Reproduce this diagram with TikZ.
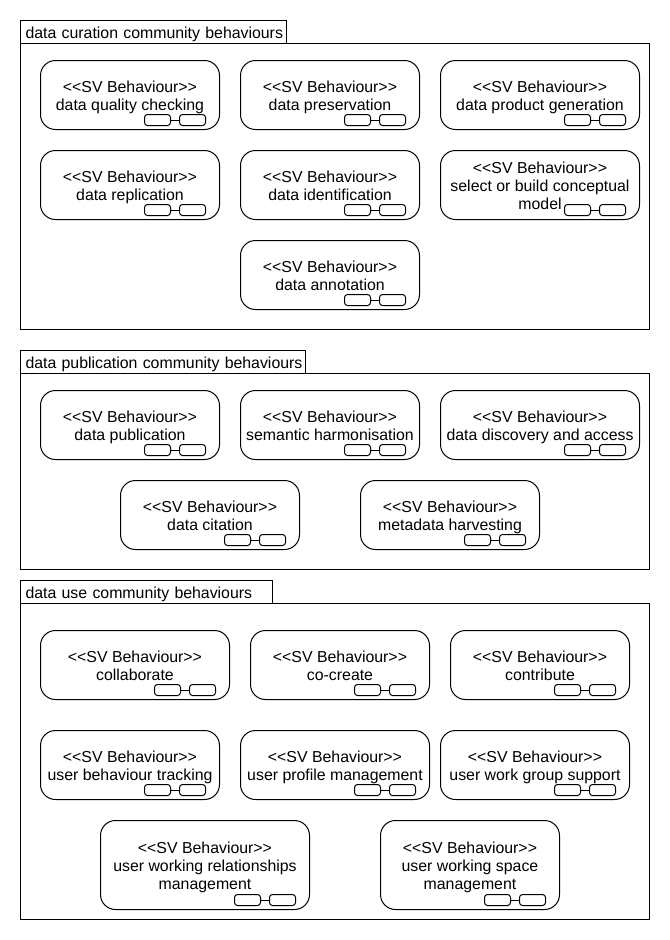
\documentclass[tikz,border=0pt]{standalone}
\usepackage{fontspec}
\setmainfont{Liberation Sans}
\usetikzlibrary{positioning}
\def\px{.75pt}
\def\svb{<{}<SV Behaviour>{}>}
\def\lntop{\rule{0pt}{13.2pt}}
\def\lnbot{\rule[-4.05pt]{0pt}{4.05pt}}
\tikzset{
  every node/.style={outer sep=0pt},
  frame/.style={draw,line width=\px,inner sep=0pt,anchor=north west,minimum width=629*\px},
  tab/.style={draw,line width=\px,anchor=south west,text width=#1*\px,align=left,inner sep=0pt,
    minimum height=23*\px,text height=9pt,text depth=0pt},
  behaviour/.style={draw,line width=\px,rounded corners=15*\px,align=center,inner sep=0pt,
    font=\fontsize{11.9}{13.5}\selectfont},
  linkbox/.style={draw,line width=\px,rounded corners=3*\px,inner sep=0pt,minimum width=26*\px,minimum height=11*\px},
}
% one behaviour: name, left, top, width, height, label
\newcommand{\behav}[6]{
\node [behaviour,minimum width=(#4-1)*\px,minimum height=(#5-1)*\px] (#1) at (#2+#4/2-.5,#3+#5/2-.5) {\lntop#6\lnbot};
\node [linkbox,anchor=south east] (#1b) at ([shift={(-14,-4)}]#1.south east) {};
\node [linkbox,left=9*\px of #1b] (#1a) {};
\draw [line width=\px] (#1a) -- (#1b);
}
\begin{document}
\begin{tikzpicture}[x=.75pt,y=-.75pt,font=\fontsize{11.9}{13.5}\selectfont]
\useasboundingbox (-.5,-.5) rectangle (669.5,939.5);
% data curation
\node [frame,minimum height=286*\px] (curation) at (20,43) {};
\node [tab=266] (curationtab) at (curation.north west) {\hspace*{3.75pt}data curation community behaviours};
\behav{quality}{40}{60}{180}{70}{\svb\\data quality checking}
\behav{preservation}{240}{60}{180}{70}{\svb\\data preservation}
\behav{product}{440}{60}{200}{70}{\svb\\data product generation}
\behav{replication}{40}{150}{180}{70}{\svb\\data replication}
\behav{identification}{240}{150}{180}{70}{\svb\\data identification}
\behav{model}{440}{150}{200}{70}{\svb\\select or build conceptual\\model}
\behav{annotation}{240}{240}{180}{70}{\svb\\data annotation}
% data publication
\node [frame,minimum height=196*\px] (publication) at (20,373) {};
\node [tab=285] (publicationtab) at (publication.north west) {\hspace*{3.75pt}data publication community behaviours};
\behav{publish}{40}{390}{180}{70}{\svb\\data publication}
\behav{semantic}{240}{390}{180}{70}{\svb\\semantic harmonisation}
\behav{discovery}{440}{390}{200}{70}{\svb\\data discovery and access}
\behav{citation}{120}{480}{180}{70}{\svb\\data citation}
\behav{harvesting}{360}{480}{180}{70}{\svb\\metadata harvesting}
% data use
\node [frame,minimum height=316*\px] (use) at (20,603) {};
\node [tab=252] (usetab) at (use.north west) {\hspace*{3.75pt}data use community behaviours};
\behav{collaborate}{40}{630}{190}{70}{\svb\\collaborate}
\behav{cocreate}{250}{630}{180}{70}{\svb\\co-create}
\behav{contribute}{450}{630}{180}{70}{\svb\\contribute}
\behav{tracking}{40}{730}{180}{70}{\svb\\user behaviour tracking}
\behav{profile}{240}{730}{190}{70}{\svb\\user profile management}
\behav{workgroup}{440}{730}{190}{70}{\svb\\user work group support}
\behav{relationships}{100}{820}{210}{90}{\svb\\user working relationships\\management}
\behav{space}{380}{820}{180}{90}{\svb\\user working space\\management}
\end{tikzpicture}
\end{document}
